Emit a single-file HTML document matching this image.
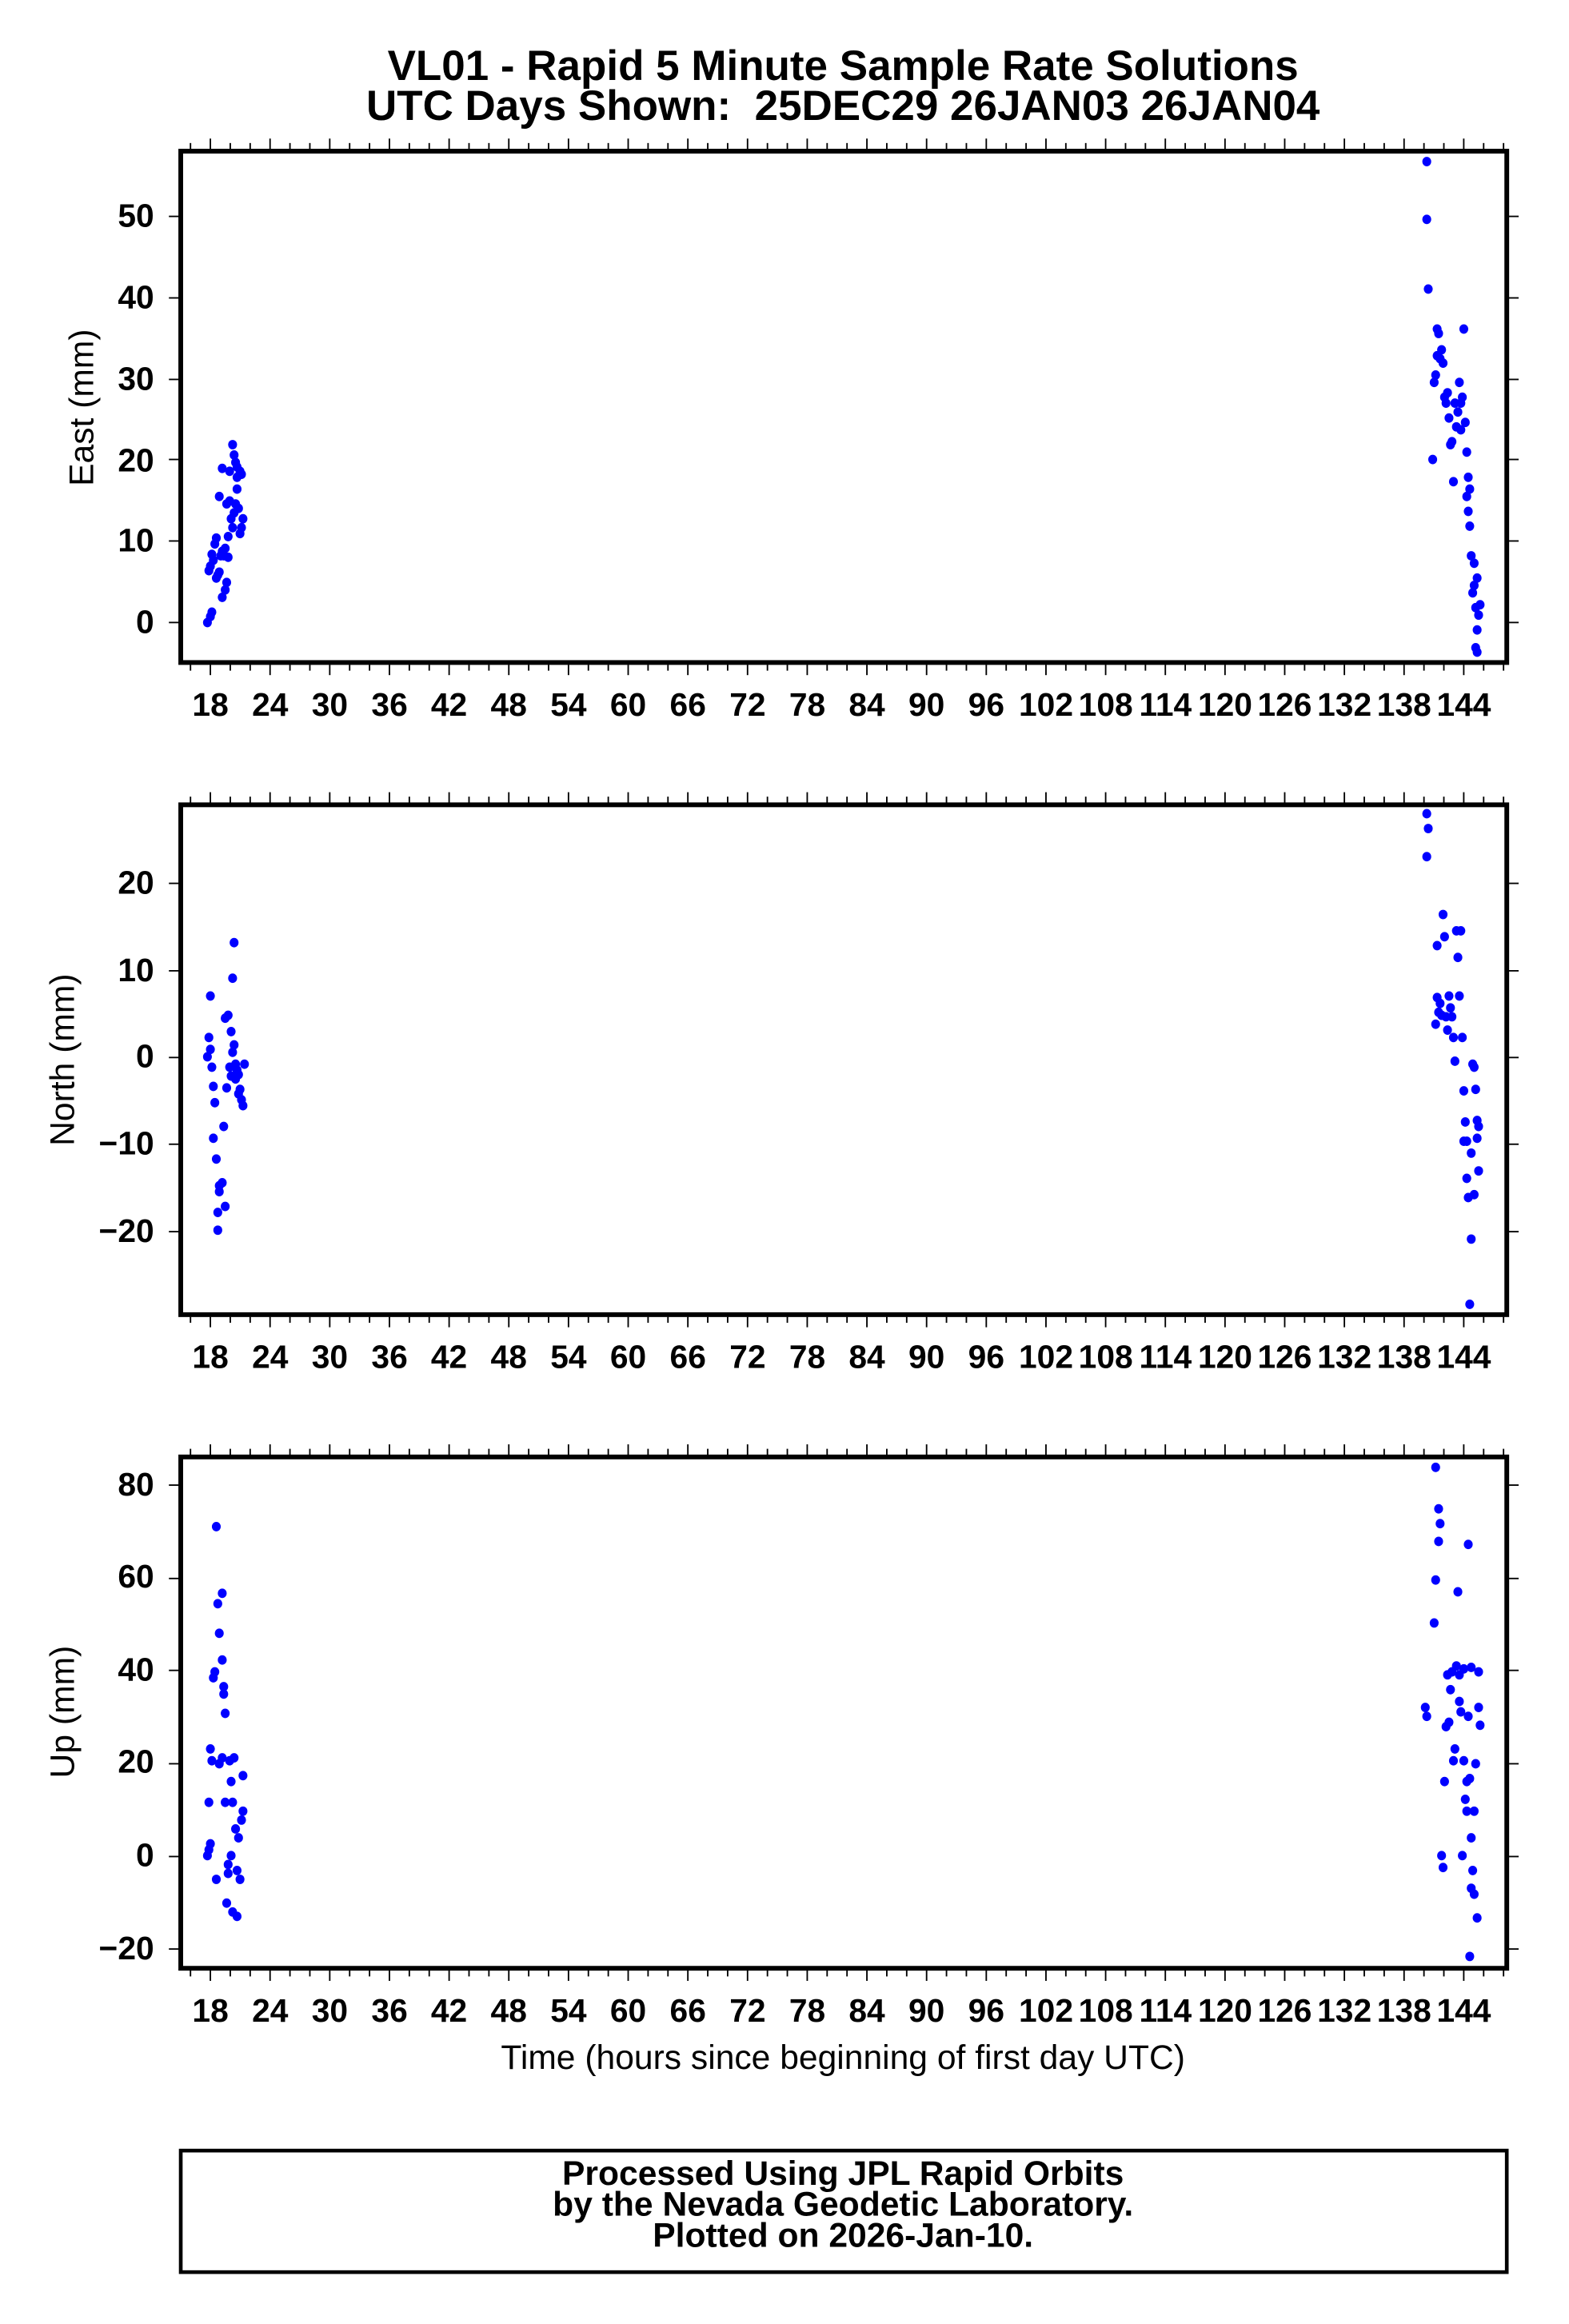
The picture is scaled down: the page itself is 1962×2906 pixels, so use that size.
<!DOCTYPE html>
<html><head><meta charset="utf-8"><style>
html,body{margin:0;padding:0;background:#fff}
svg{display:block}
text{font-family:"Liberation Sans",sans-serif}
.t{font-weight:bold;font-size:28.6px}
.k{font-weight:bold;font-size:22px}
.f{font-weight:bold;font-size:23px}
.l{font-size:23px}
</style></head><body>
<svg id="s" width="1962" height="2906" viewBox="0 0 1059 1568" preserveAspectRatio="none" xmlns="http://www.w3.org/2000/svg">
<rect width="1100" height="1600" fill="#fff"/>
<text class="t" x="569" y="54" text-anchor="middle">VL01 - Rapid 5 Minute Sample Rate Solutions</text>
<text class="t" x="569" y="81" text-anchor="middle" xml:space="preserve">UTC Days Shown:  25DEC29 26JAN03 26JAN04</text>
<g id="ticks" stroke="#000" stroke-width="1"></g>
<g fill="none" stroke="#000" stroke-width="3.2">
<rect x="122" y="102" width="895" height="345"/>
<rect x="122" y="543" width="895" height="344"/>
<rect x="122" y="983" width="895" height="345"/>
<rect x="122" y="1451" width="895" height="82" stroke-width="2.5"/>
</g>
<g class="k" text-anchor="end">
<text x="104" y="153">50</text><text x="104" y="208">40</text><text x="104" y="263">30</text><text x="104" y="318">20</text><text x="104" y="372">10</text><text x="104" y="427">0</text>
<text x="104" y="603">20</text><text x="104" y="662">10</text><text x="104" y="720">0</text><text x="104" y="779">−10</text><text x="104" y="838">−20</text>
<text x="104" y="1009">80</text><text x="104" y="1071">60</text><text x="104" y="1134">40</text><text x="104" y="1196">20</text><text x="104" y="1259">0</text><text x="104" y="1322">−20</text>
</g>
<text class="l" transform="translate(63,275) rotate(-90)" text-anchor="middle">East (mm)</text>
<text class="l" transform="translate(50,715) rotate(-90)" text-anchor="middle">North (mm)</text>
<text class="l" transform="translate(50,1155) rotate(-90)" text-anchor="middle">Up (mm)</text>
<text class="l" x="569" y="1396" text-anchor="middle">Time (hours since beginning of first day UTC)</text>
<text class="f" x="569" y="1474" text-anchor="middle">Processed Using JPL Rapid Orbits</text>
<text class="f" x="569" y="1495" text-anchor="middle">by the Nevada Geodetic Laboratory.</text>
<text class="f" x="569" y="1516" text-anchor="middle">Plotted on 2026-Jan-10.</text>
<g class="k" text-anchor="middle">
<text x="142" y="483">18</text><text x="182.3" y="483">24</text><text x="222.6" y="483">30</text><text x="262.9" y="483">36</text><text x="303.1" y="483">42</text><text x="343.4" y="483">48</text><text x="383.7" y="483">54</text><text x="424" y="483">60</text><text x="464.3" y="483">66</text><text x="504.6" y="483">72</text><text x="544.9" y="483">78</text><text x="585.1" y="483">84</text><text x="625.4" y="483">90</text><text x="665.7" y="483">96</text><text x="706" y="483">102</text><text x="746.3" y="483">108</text><text x="786.6" y="483">114</text><text x="826.9" y="483">120</text><text x="867.1" y="483">126</text><text x="907.4" y="483">132</text><text x="947.7" y="483">138</text><text x="988" y="483">144</text>
</g>
<g class="k" text-anchor="middle" transform="translate(0,440)">
<text x="142" y="483">18</text><text x="182.3" y="483">24</text><text x="222.6" y="483">30</text><text x="262.9" y="483">36</text><text x="303.1" y="483">42</text><text x="343.4" y="483">48</text><text x="383.7" y="483">54</text><text x="424" y="483">60</text><text x="464.3" y="483">66</text><text x="504.6" y="483">72</text><text x="544.9" y="483">78</text><text x="585.1" y="483">84</text><text x="625.4" y="483">90</text><text x="665.7" y="483">96</text><text x="706" y="483">102</text><text x="746.3" y="483">108</text><text x="786.6" y="483">114</text><text x="826.9" y="483">120</text><text x="867.1" y="483">126</text><text x="907.4" y="483">132</text><text x="947.7" y="483">138</text><text x="988" y="483">144</text>
</g>
<g class="k" text-anchor="middle" transform="translate(0,881)">
<text x="142" y="483">18</text><text x="182.3" y="483">24</text><text x="222.6" y="483">30</text><text x="262.9" y="483">36</text><text x="303.1" y="483">42</text><text x="343.4" y="483">48</text><text x="383.7" y="483">54</text><text x="424" y="483">60</text><text x="464.3" y="483">66</text><text x="504.6" y="483">72</text><text x="544.9" y="483">78</text><text x="585.1" y="483">84</text><text x="625.4" y="483">90</text><text x="665.7" y="483">96</text><text x="706" y="483">102</text><text x="746.3" y="483">108</text><text x="786.6" y="483">114</text><text x="826.9" y="483">120</text><text x="867.1" y="483">126</text><text x="907.4" y="483">132</text><text x="947.7" y="483">138</text><text x="988" y="483">144</text>
</g>
<g id="dots" fill="#0000ff"></g>
</svg>
<script>
var NS="http://www.w3.org/2000/svg";
var tk=document.getElementById("ticks"),dg=document.getElementById("dots");
function ln(x1,y1,x2,y2){var l=document.createElementNS(NS,"line");l.setAttribute("x1",x1);l.setAttribute("y1",y1);l.setAttribute("x2",x2);l.setAttribute("y2",y2);tk.appendChild(l);}
var panels=[[102,447,[146,201,256,310,365,420]],[543,887,[596,655,713.5,772,831]],[983,1328,[1002,1065,1127,1190,1252.6,1315]]];
panels.forEach(function(p){
 for(var h=16;h<=148;h+=2){var x=142+(h-18)*6.714;var maj=((h-18)%6===0);var L=maj?7:4;
  ln(x,p[0]-1.5,x,p[0]-1.5-L);ln(x,p[1]+1.5,x,p[1]+1.5+L);}
 p[2].forEach(function(y){ln(122,y,114,y);ln(1017,y,1025,y);});
});
var pts=[[140,420],[142,416],[143,413],[141,385],[142,382],[144,378],[143,374],[145,367],[146,363],[147,388],[148,386],[146,390],[149,375],[150,372],[151,375],[152,398],[153,393],[150,403],[152,370],[154,376],[148,335],[150,316],[155,318],[153,340],[155,338],[157,300],[158,307],[159,312],[160,322],[160,330],[161,343],[162,360],[163,356],[156,350],[158,346],[154,362],[157,356],[164,350],[162,318],[160,315],[163,320],[159,340],
[963,109],[963,148],[964,195],[967,310],[968,258],[969,253],[970,240],[970,222],[971,225],[972,242],[973,236],[974,245],[975,268],[976,272],[977,265],[978,282],[979,300],[980,298],[981,325],[982,272],[983,288],[984,278],[985,258],[986,290],[987,268],[988,222],[986,272],[989,285],[990,305],[991,322],[992,330],[990,335],[991,345],[992,355],[993,375],[995,380],[994,400],[996,410],[995,395],[997,390],[998,415],[997,425],[996,437],[997,440],[999,408],
[140,713],[141,700],[142,708],[142,672],[143,720],[144,733],[145,744],[144,768],[146,782],[148,800],[147,818],[147,830],[148,804],[150,798],[152,814],[151,760],[152,687],[154,685],[153,734],[155,720],[156,696],[157,660],[158,636],[157,710],[158,705],[159,718],[160,722],[161,725],[162,735],[163,742],[164,746],[165,718],[156,726],[159,728],[161,738],
[963,549],[964,559],[963,578],[970,638],[969,691],[970,673],[971,683],[972,677],[973,685],[974,617],[975,632],[976,686],[977,695],[978,672],[979,680],[980,686],[981,700],[982,716],[983,628],[984,646],[985,672],[986,628],[987,700],[988,736],[989,757],[990,770],[990,795],[991,808],[993,836],[992,880],[994,718],[995,720],[996,735],[997,756],[998,760],[997,768],[998,790],[995,806],[993,778],[988,770],
[140,1252],[141,1248],[142,1244],[141,1216],[142,1180],[143,1188],[144,1132],[145,1128],[146,1030],[147,1082],[148,1102],[150,1120],[151,1138],[151,1143],[152,1156],[150,1075],[146,1268],[148,1190],[150,1186],[152,1216],[153,1284],[154,1258],[155,1188],[156,1202],[157,1216],[158,1186],[159,1234],[160,1262],[161,1240],[162,1268],[163,1228],[164,1198],[164,1222],[157,1290],[160,1293],[154,1264],[156,1252],
[962,1152],[963,1158],[969,990],[971,1018],[972,1028],[971,1040],[969,1066],[968,1095],[973,1252],[974,1260],[975,1202],[976,1165],[977,1130],[978,1162],[979,1140],[980,1128],[981,1188],[982,1180],[983,1124],[984,1074],[985,1148],[986,1155],[987,1252],[988,1188],[989,1214],[990,1222],[991,1158],[991,1042],[992,1200],[993,1240],[994,1262],[993,1274],[995,1278],[996,1190],[997,1294],[998,1152],[998,1128],[999,1164],[995,1222],[992,1320],[990,1202],[985,1130],[988,1126],[993,1125]];
pts.forEach(function(p){var c=document.createElementNS(NS,"ellipse");c.setAttribute("cx",p[0]);c.setAttribute("cy",p[1]);c.setAttribute("rx",3.0);c.setAttribute("ry",3.2);dg.appendChild(c);});
</script>
</body></html>
